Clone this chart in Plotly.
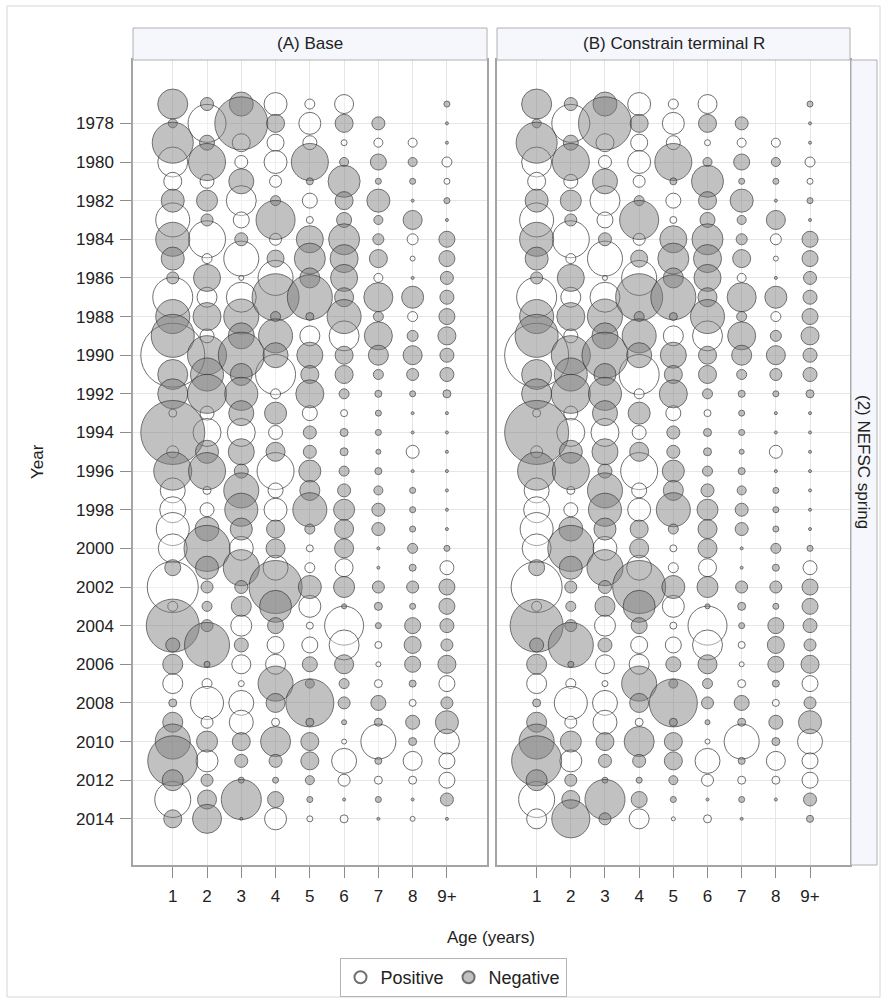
import plotly.graph_objects as go

W, H = 887, 1004

years = list(range(1977, 2015))
age_labels = ["1", "2", "3", "4", "5", "6", "7", "8", "9+"]
even_years = list(range(1978, 2015, 2))

# Residuals by age class, one entry per year 1977..2014 (panel A, base run).
# Positive residuals are drawn open, negative residuals filled.
res_age1 = [-3.0, -0.9, -4.1, 3.0, 1.8, -2.3, 3.4, -3.4, -2.3, -1.2,
            4.0, -3.4, -4.3, 6.4, -3.0, -3.0, 0.8, -6.4, 1.2, -3.8,
            2.5, 2.6, 3.3, 2.9, -1.6, 5.1, 1.0, -5.3, -1.4, -2.0,
            2.0, -0.8, -2.0, -3.5, -5.0, -2.1, 3.6, -1.8]
res_age2 = [-1.3, 3.8, -1.5, -3.7, 1.4, -2.1, -1.2, 3.7, 1.0, -2.7,
            2.0, -2.8, 1.4, -3.9, -3.3, -3.9, 1.4, 2.8, -2.3, -3.7,
            0.8, 1.4, -2.4, -4.6, -2.3, -1.2, -1.0, -1.2, -4.5, -0.6,
            1.0, 3.3, 1.2, -2.1, 2.2, -1.2, -1.9, -2.9]
res_age3 = [-2.4, -5.3, 1.8, 1.3, -2.5, 3.0, 1.6, -1.3, 3.5, 0.5,
            3.0, -3.5, -2.6, -4.6, -2.2, -3.3, -2.5, 2.8, -2.6, -1.4,
            -3.5, -3.3, -2.2, 2.4, -3.6, -1.3, -2.0, 2.1, -1.4, 1.9,
            0.6, 2.5, 2.4, -1.8, -1.3, -0.6, -4.0, -0.3]
res_age4 = [2.3, -1.8, 1.7, 2.3, 1.2, -1.0, -3.9, 1.2, -1.7, 3.5,
            -4.7, -1.0, -3.4, -2.5, 4.0, 1.0, -2.2, 1.4, -1.9, 3.7,
            1.5, 2.3, -1.8, -1.9, 2.5, -5.3, -3.2, -1.6, 1.7, 2.0,
            -3.5, -1.9, 0.8, -3.0, -1.3, -0.6, -1.6, 2.2]
res_age5 = [1.0, 2.2, 1.4, -3.7, -0.7, 1.5, 0.7, -2.7, -3.1, -2.0,
            -4.5, -0.8, 2.0, -2.6, -1.8, -2.8, 1.5, -1.3, -1.3, -2.2,
            -2.0, -3.4, -1.0, 0.7, 1.0, -2.3, 2.2, 0.7, 1.6, -1.5,
            -0.9, -4.8, -0.8, -1.8, -1.8, -0.9, -0.6, 0.6]
res_age6 = [1.9, -1.8, 0.6, -0.9, -3.2, -1.8, -1.5, -3.1, -2.8, -2.7,
            -1.9, -3.4, 3.0, -1.8, -1.8, -1.0, 0.7, -0.8, -0.8, -1.0,
            -1.3, -2.1, -1.9, -1.9, 1.8, -2.1, -0.5, 3.9, 3.0, -1.9,
            -1.0, -1.2, -0.5, 0.5, 2.5, 1.2, -0.3, 0.8]
res_age7 = [None, -1.3, 0.9, -1.6, -0.6, -2.3, -0.9, -1.1, -1.8, 0.9,
            -2.9, -1.0, -2.8, -2.0, -1.0, -0.7, -0.6, -0.6, -0.5, -0.7,
            -0.9, -1.3, -1.3, -0.3, -0.3, -1.2, -0.8, -0.6, 0.7, 0.5,
            0.8, -1.5, -0.8, 3.5, -0.7, 0.8, -0.6, -0.3]
res_age8 = [None, None, 0.9, -0.9, -0.6, -0.3, -1.9, 1.1, 0.5, -0.3,
            -2.2, 1.0, -1.1, -1.9, -1.2, -0.6, -0.3, -0.3, 1.3, -0.3,
            -0.6, -0.6, -0.6, -1.0, -0.7, -1.2, -0.6, -1.6, -1.7, -1.6,
            -0.7, 0.7, -1.4, -0.8, 1.9, 0.8, -0.3, 0.5]
res_age9 = [-0.6, -0.3, -0.3, 1.0, 0.6, -0.6, -0.3, -1.6, -1.6, -1.3,
            -1.4, -1.6, -1.8, -1.4, -1.4, -0.8, -0.3, -0.3, -0.3, -0.3,
            -0.3, -0.3, -0.3, -0.6, 1.4, -1.6, -1.6, -1.4, -1.2, -1.8,
            1.6, -1.2, -2.3, 2.5, 1.6, 1.6, -1.3, -0.3]

# Panel B (constrained terminal recruitment) differs only in the last years
res_b_2013 = [3.6, -1.8, -4.0, -1.6, -0.6, -0.3, -0.6, -0.3, -1.3]
res_b_2014 = [2.0, -3.8, -1.2, 2.0, 0.4, 0.8, -0.3, None, -0.7]

panel_titles = ["(A) Base", "(B) Constrain terminal R"]
row_title = "(2) NEFSC spring"

base_cols = [res_age1, res_age2, res_age3, res_age4, res_age5,
             res_age6, res_age7, res_age8, res_age9]
panel_b_cols = []
for j, col in enumerate(base_cols):
    c = list(col)
    c[-2] = res_b_2013[j]
    c[-1] = res_b_2014[j]
    panel_b_cols.append(c)


def px(x):
    return x / W


def py(y):
    return 1 - y / H


FONT = "Liberation Sans, Arial, sans-serif"
TXT = "#222222"
POS_FILL = "rgba(255,255,255,0.55)"
NEG_FILL = "rgba(125,125,125,0.68)"
EDGE = "#333333"


def split(cols):
    pos = ([], [], [])
    neg = ([], [], [])
    for j, col in enumerate(cols):
        for yr, v in zip(years, col):
            if v is None:
                continue
            tgt = pos if v > 0 else neg
            tgt[0].append(j + 1)
            tgt[1].append(yr)
            tgt[2].append(abs(v))
    return pos, neg


fig = go.Figure()
for k, cols in enumerate([base_cols, panel_b_cols]):
    pos, neg = split(cols)
    xa = "x" if k == 0 else "x2"
    ya = "y" if k == 0 else "y2"
    for name, data, fill in [("Positive", pos, POS_FILL), ("Negative", neg, NEG_FILL)]:
        fig.add_trace(go.Scatter(
            x=data[0], y=data[1], mode="markers", name=name,
            xaxis=xa, yaxis=ya, legendgroup=name, showlegend=(k == 0),
            marker=dict(size=data[2], sizemode="diameter", sizeref=0.1,
                        color=fill, line=dict(color=EDGE, width=1)),
            hovertemplate="Age %{x}<br>%{y}<extra>" + name + "</extra>",
        ))

xr = [-0.16, 10.17]
yr_range = [2016.39, 1974.72]
x_common = dict(range=xr, tickvals=list(range(1, 10)), ticktext=age_labels,
                showgrid=True, gridcolor="#e6e6e6", gridwidth=1, zeroline=False,
                showline=True, linecolor="#a4a4a4", linewidth=1.5, mirror=True,
                ticks="outside", ticklen=11, tickcolor="#8c8c8c",
                ticklabelstandoff=4,
                tickfont=dict(family=FONT, size=17, color=TXT))
y_common = dict(range=yr_range, tickvals=even_years, showgrid=True,
                gridcolor="#e6e6e6", gridwidth=1, zeroline=False,
                showline=True, linecolor="#a4a4a4", linewidth=1.5, mirror=True,
                domain=[py(865), py(60)],
                tickfont=dict(family=FONT, size=17, color=TXT))

fig.update_layout(
    width=W, height=H, autosize=False,
    margin=dict(l=0, r=0, t=0, b=0),
    paper_bgcolor="white", plot_bgcolor="white",
    font=dict(family=FONT, size=17, color=TXT),
    xaxis=dict(domain=[px(133), px(487)], anchor="y", **x_common),
    xaxis2=dict(domain=[px(497), px(850)], anchor="y2", **x_common),
    yaxis=dict(anchor="x", ticks="outside", ticklen=11, tickcolor="#8c8c8c",
               ticklabelstandoff=3, **y_common),
    yaxis2=dict(anchor="x2", showticklabels=False, ticks="", **y_common),
    legend=dict(orientation="h", x=px(453), xanchor="center", y=py(958),
                yanchor="top", bordercolor="#b4b4b4", borderwidth=1,
                bgcolor="white", itemsizing="constant",
                font=dict(family=FONT, size=18, color=TXT),
                traceorder="normal"),
    showlegend=True,
)

shapes = [
    # outer frame
    dict(type="rect", xref="paper", yref="paper", x0=px(7), x1=px(880),
         y0=py(997), y1=py(6), line=dict(color="#d6d6d6", width=1)),
    # column strips
    dict(type="rect", xref="paper", yref="paper", x0=px(133), x1=px(487),
         y0=py(60), y1=py(28), fillcolor="#f5f7fc",
         line=dict(color="#b0b0b0", width=1)),
    dict(type="rect", xref="paper", yref="paper", x0=px(497), x1=px(850),
         y0=py(60), y1=py(28), fillcolor="#f5f7fc",
         line=dict(color="#b0b0b0", width=1)),
    # row strip
    dict(type="rect", xref="paper", yref="paper", x0=px(851), x1=px(877),
         y0=py(865), y1=py(60), fillcolor="#f5f7fc",
         line=dict(color="#b0b0b0", width=1)),
]
fig.update_layout(shapes=shapes)

ann = [
    dict(text=panel_titles[0], x=px(310), y=py(44)),
    dict(text=panel_titles[1], x=px(673.5), y=py(44)),
    dict(text=row_title, x=px(864), y=py(462), textangle=90),
    dict(text="Year", x=px(37), y=py(462), textangle=-90),
    dict(text="Age (years)", x=px(491), y=py(937)),
]
for a in ann:
    a.update(xref="paper", yref="paper", showarrow=False,
             xanchor="center", yanchor="middle",
             font=dict(family=FONT, size=17, color=TXT))
fig.update_layout(annotations=ann)

fig.write_html("out.html")
